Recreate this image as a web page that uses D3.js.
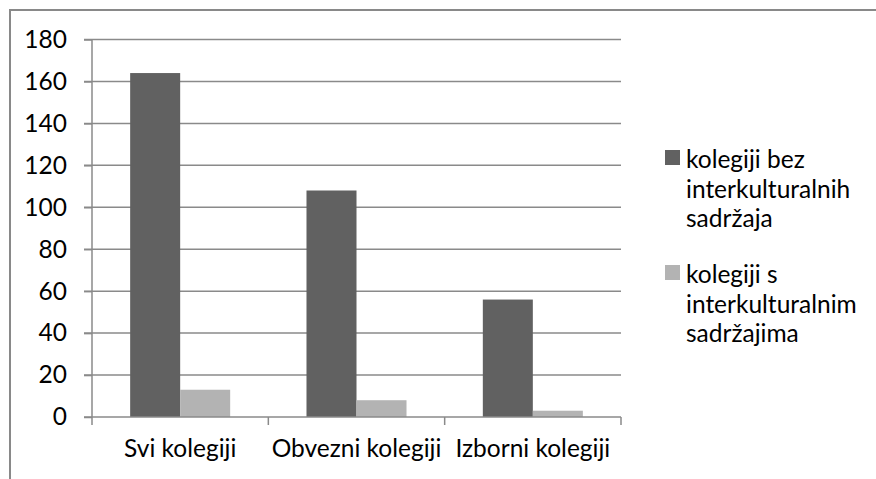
<!DOCTYPE html>
<html>
<head>
<meta charset="utf-8">
<script src="https://cdn.jsdelivr.net/npm/d3@7"></script>
<style>
  body { margin: 0; background: #fff; }
  text { font-family: Lato, "Open Sans", sans-serif; fill: #000; }
</style>
</head>
<body>
<div id="chart"></div>
<script>
var categories = ["Svi kolegiji", "Obvezni kolegiji", "Izborni kolegiji"];
var seriesNames = ["kolegiji bez interkulturalnih sadržaja", "kolegiji s interkulturalnim sadržajima"];
var legendLines = [["kolegiji bez", "interkulturalnih", "sadržaja"], ["kolegiji s", "interkulturalnim", "sadržajima"]];
var withoutValues = [164, 108, 56];
var withValues = [13, 8, 3];
var yTicks = [0, 20, 40, 60, 80, 100, 120, 140, 160, 180];
var colors = ["#616161", "#b3b3b3"];

var w = 876, h = 479;
var margin = {top: 39.5, left: 92, right: 255, bottom: 62};
var fontSize = "24.5px";

var svg = d3.select("#chart").append("svg")
  .attr("width", w)
  .attr("height", h);

// outer frame
svg.append("rect")
  .attr("x", 10).attr("y", 10)
  .attr("width", 900).attr("height", 500)
  .attr("fill", "none")
  .attr("stroke", "#898989")
  .attr("stroke-width", 2);

var y = d3.scaleLinear()
  .domain([0, 180])
  .range([h - margin.bottom, margin.top]);

var x0 = d3.scaleBand()
  .domain(categories)
  .range([margin.left, w - margin.right])
  .padding(0);

var x1 = d3.scaleBand()
  .domain(seriesNames)
  .range([0, x0.bandwidth()])
  .paddingInner(0)
  .paddingOuter(0.763);

// gridlines
svg.append("g")
  .selectAll("line")
  .data(yTicks.filter(function(d) { return d > 0; }))
  .enter().append("line")
  .attr("x1", margin.left - 8)
  .attr("x2", w - margin.right)
  .attr("y1", function(d) { return y(d); })
  .attr("y2", function(d) { return y(d); })
  .attr("stroke", "#8a8a8a")
  .attr("stroke-width", 1.5);

// bars
var rows = categories.map(function(c, i) {
  return [
    {cat: c, s: seriesNames[0], v: withoutValues[i], col: colors[0]},
    {cat: c, s: seriesNames[1], v: withValues[i], col: colors[1]}
  ];
});

svg.append("g")
  .selectAll("g")
  .data(rows)
  .enter().append("g")
  .attr("transform", function(d) { return "translate(" + x0(d[0].cat) + ",0)"; })
  .selectAll("rect")
  .data(function(d) { return d; })
  .enter().append("rect")
  .attr("x", function(d) { return x1(d.s); })
  .attr("width", x1.bandwidth())
  .attr("y", function(d) { return y(d.v); })
  .attr("height", function(d) { return y(0) - y(d.v); })
  .attr("fill", function(d) { return d.col; });

// y axis
var yAxis = svg.append("g")
  .attr("transform", "translate(" + margin.left + ",0)")
  .call(d3.axisLeft(y).tickValues(yTicks).tickSize(8).tickPadding(17));
yAxis.selectAll("line").attr("stroke", "#8a8a8a").attr("stroke-width", 1.5);
yAxis.select(".domain").attr("stroke", "#8a8a8a").attr("stroke-width", 1.5).attr("d", "M0," + y(180) + "V" + y(0));
yAxis.selectAll("text").style("font-size", fontSize).attr("font-family", null);

// x axis
var xAxis = svg.append("g")
  .attr("transform", "translate(0," + y(0) + ")")
  .call(d3.axisBottom(x0).tickSize(0).tickPadding(23));
xAxis.select(".domain").attr("stroke", "#8a8a8a").attr("stroke-width", 1.5)
  .attr("d", "M" + (margin.left - 8) + ",0H" + (w - margin.right));
xAxis.selectAll("text").style("font-size", fontSize).attr("font-family", null);

var bounds = categories.map(function(c) { return x0(c); }).concat([w - margin.right]);
xAxis.selectAll(".sep")
  .data(bounds)
  .enter().append("line")
  .attr("class", "sep")
  .attr("x1", function(d) { return d; })
  .attr("x2", function(d) { return d; })
  .attr("y1", 0).attr("y2", 8)
  .attr("stroke", "#8a8a8a")
  .attr("stroke-width", 1.5);

// legend
var legend = svg.append("g")
  .attr("transform", "translate(665,150)");

var item = legend.selectAll("g")
  .data(seriesNames)
  .enter().append("g")
  .attr("transform", function(d, i) { return "translate(0," + (i * 115) + ")"; });

item.append("rect")
  .attr("width", 15).attr("height", 15)
  .attr("fill", function(d, i) { return colors[i]; });

item.append("text")
  .style("font-size", fontSize)
  .selectAll("tspan")
  .data(function(d, i) { return legendLines[i]; })
  .enter().append("tspan")
  .attr("x", 21)
  .attr("y", function(d, j) { return 18 + j * 29.5; })
  .text(function(d) { return d; });
</script>
</body>
</html>
